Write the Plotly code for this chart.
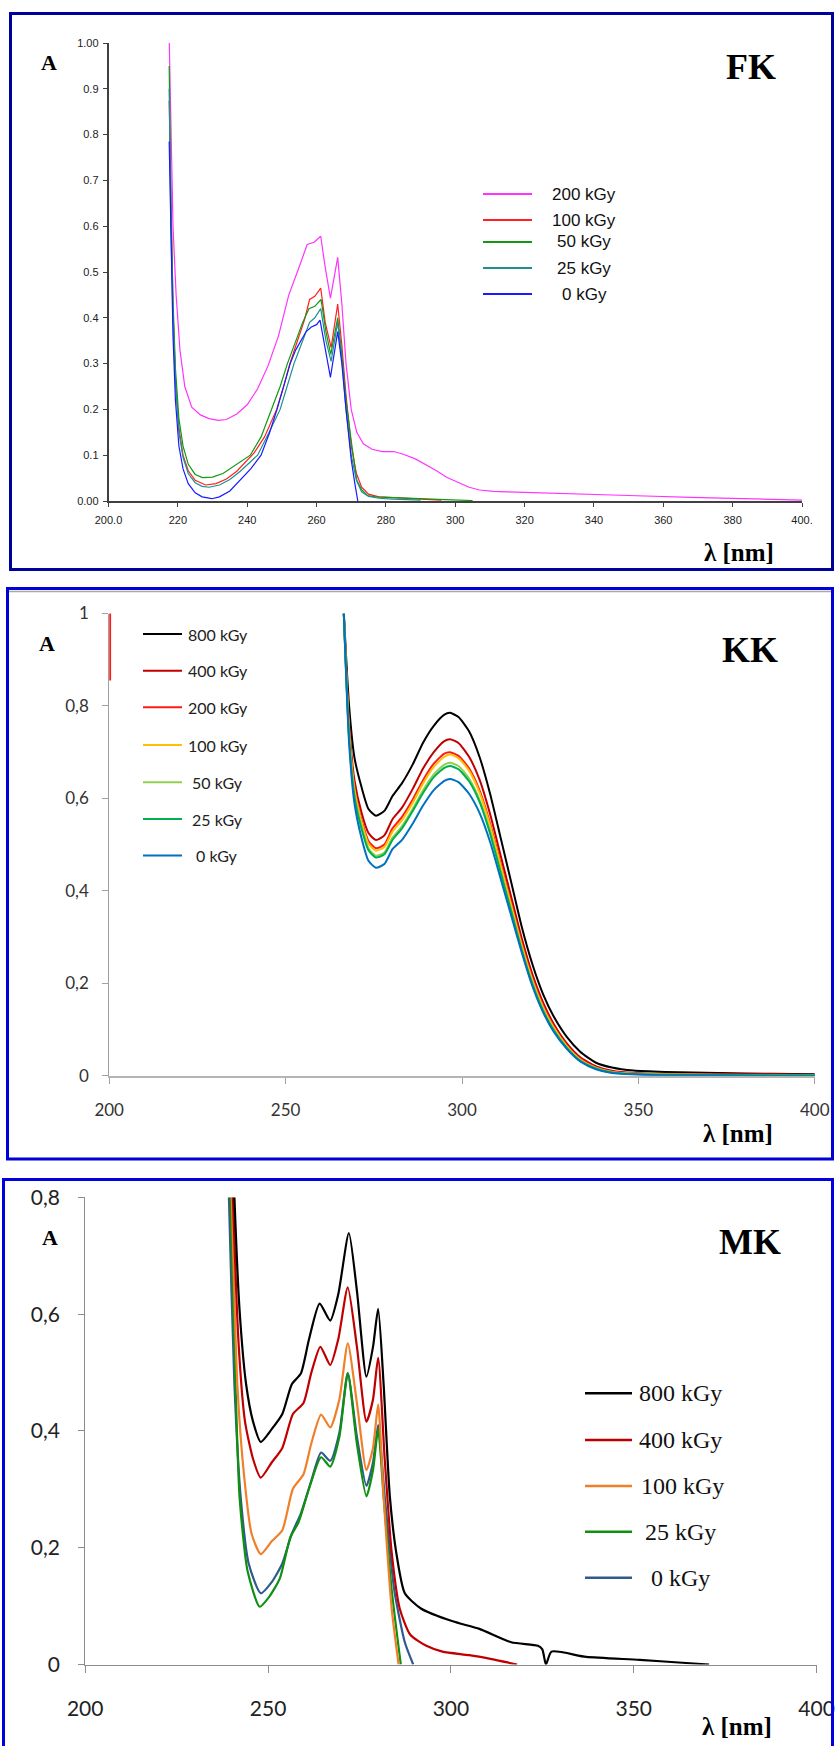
import plotly.graph_objects as go

W, H = 835, 1746


def px(x):
    return x / W


def py(y):
    return 1 - y / H


# ---------------- FK panel data ----------------
fk_labels = ["200 kGy", "100 kGy", "50 kGy", "25 kGy", "0 kGy"]
fk_colors = ["#ff33ff", "#ff2020", "#119911", "#1f8f8f", "#1a1aff"]

fk_200_nm = [217.4, 218.0, 218.6, 219.5, 220.6, 222, 224, 226.5, 229, 231.7, 234, 237, 240,
             243, 246, 249, 252, 254.7, 257.3, 259.3, 261.2, 262.5, 264, 266.1, 267.3, 268.5,
             270, 271.6, 273.5, 276, 279, 282.3, 285, 288.5, 291.5, 294.6, 297.5, 300.8, 304,
             307, 311, 315, 325, 337.6, 350, 368, 385, 400]
fk_200_abs = [1.05, 0.8, 0.6, 0.45, 0.33, 0.25, 0.205, 0.188, 0.18, 0.176, 0.178, 0.19, 0.21,
              0.245, 0.295, 0.36, 0.45, 0.505, 0.56, 0.565, 0.578, 0.51, 0.443, 0.532, 0.43, 0.30,
              0.2, 0.15, 0.125, 0.113, 0.108, 0.108, 0.102, 0.092, 0.08, 0.066, 0.052, 0.04, 0.03,
              0.024, 0.021, 0.02, 0.018, 0.016, 0.012, 0.008, 0.005, 0.002]

fk_100_nm = [217.5, 218.0, 218.6, 219.3, 220.3, 221.5, 223, 225, 228, 231, 234, 237, 240, 242,
             245, 248.5, 250.5, 252.3, 254.5, 256.5, 258, 259.5, 261.2, 262.5, 264.2, 266.1,
             267.3, 268.5, 270, 271.5, 273, 275, 278, 282, 286, 290, 296]
fk_100_abs = [0.874, 0.62, 0.42, 0.27, 0.16, 0.1, 0.066, 0.045, 0.035, 0.038, 0.048, 0.065,
              0.088, 0.105, 0.14, 0.2, 0.25, 0.3, 0.35, 0.395, 0.44, 0.447, 0.465, 0.39, 0.335,
              0.43, 0.34, 0.23, 0.12, 0.06, 0.03, 0.015, 0.009, 0.007, 0.006, 0.004, 0.002]

fk_50_nm = [217.5, 218.0, 218.6, 219.3, 220.3, 221.5, 223, 225, 227.1, 230, 233, 236, 238.5,
            240.9, 244, 247, 249.5, 251.6, 254, 256, 257.8, 259.5, 261.3, 262.7, 264.1, 266.1,
            267.3, 268.5, 270.1, 271.6, 273, 274.7, 277, 280, 285, 290, 297, 305]
fk_50_abs = [0.95, 0.65, 0.44, 0.29, 0.18, 0.12, 0.08, 0.058, 0.051, 0.052, 0.06, 0.075, 0.088,
             0.1, 0.14, 0.2, 0.25, 0.3, 0.35, 0.39, 0.42, 0.425, 0.44, 0.37, 0.32, 0.40, 0.32,
             0.22, 0.126, 0.045, 0.025, 0.012, 0.009, 0.008, 0.006, 0.005, 0.003, 0.001]

fk_25_nm = [217.5, 218.0, 218.6, 219.3, 220.3, 221.5, 223, 225, 227, 229, 232, 235, 238, 241,
            243, 246, 249.5, 251.5, 253.5, 256, 258, 259.5, 261.2, 262.7, 264.2, 266.1, 267.3,
            268.5, 270, 271.5, 273, 275, 278, 282, 290]
fk_25_abs = [0.9, 0.6, 0.4, 0.26, 0.15, 0.095, 0.06, 0.04, 0.032, 0.03, 0.035, 0.047, 0.065,
             0.085, 0.1, 0.145, 0.2, 0.25, 0.3, 0.35, 0.39, 0.4, 0.42, 0.35, 0.305, 0.39, 0.31,
             0.2, 0.1, 0.045, 0.02, 0.01, 0.006, 0.004, 0.002]

fk_0_nm = [217.5, 218.0, 218.6, 219.3, 220.3, 221.5, 223, 225, 227, 229.8, 232, 235, 238, 241,
           244, 246.5, 248.6, 250.5, 252.4, 254, 255.5, 257, 258.5, 260, 261, 262.5, 264, 266.1,
           267.3, 268.5, 270, 271, 271.9]
fk_0_abs = [0.785, 0.55, 0.36, 0.22, 0.12, 0.07, 0.038, 0.018, 0.009, 0.005, 0.009, 0.022,
            0.045, 0.07, 0.1, 0.15, 0.2, 0.25, 0.3, 0.33, 0.35, 0.37, 0.38, 0.385, 0.395, 0.33,
            0.27, 0.37, 0.3, 0.2, 0.09, 0.04, 0.0]

fk_x_ticks = [200, 220, 240, 260, 280, 300, 320, 340, 360, 380, 400]
fk_x_text = ["200.0", "220", "240", "260", "280", "300", "320", "340", "360", "380", "400."]
fk_y_ticks = [0, 0.1, 0.2, 0.3, 0.4, 0.5, 0.6, 0.7, 0.8, 0.9, 1.0]
fk_y_text = ["0.00", "0.1", "0.2", "0.3", "0.4", "0.5", "0.6", "0.7", "0.8", "0.9", "1.00"]

# ---------------- KK panel data ----------------
kk_labels = ["800 kGy", "400 kGy", "200 kGy", "100 kGy", "50 kGy", "25 kGy", "0 kGy"]
kk_colors = ["#000000", "#c00000", "#ff1a1a", "#ffc000", "#92d050", "#00b050", "#0070c0"]

kk_nm = [266.5, 268, 269.5, 271.5, 273.5, 275.6, 278, 280.3, 283, 286, 289, 292, 295, 296.6,
         299, 302, 305, 308, 311, 314, 317, 320, 323, 326, 329.7, 333.5, 338, 342.5, 348.6,
         357.6, 372.7, 387.8, 400]
kk_800 = [1.0, 0.80, 0.689, 0.625, 0.577, 0.5625, 0.573, 0.605, 0.633, 0.673, 0.721, 0.757,
          0.781, 0.785, 0.776, 0.745, 0.689, 0.609, 0.513, 0.417, 0.32, 0.24, 0.176, 0.128,
          0.084, 0.052, 0.028, 0.0176, 0.011, 0.008, 0.0056, 0.004, 0.003]
kk_400 = [1.0, 0.76, 0.64, 0.57, 0.525, 0.51, 0.52, 0.555, 0.58, 0.62, 0.665, 0.70, 0.724,
          0.728, 0.72, 0.69, 0.64, 0.565, 0.475, 0.385, 0.295, 0.218, 0.158, 0.112, 0.07, 0.04,
          0.02, 0.011, 0.006, 0.004, 0.003, 0.003, 0.002]
kk_200 = [1.0, 0.75, 0.625, 0.555, 0.508, 0.492, 0.50, 0.535, 0.56, 0.597, 0.64, 0.675, 0.697,
          0.70, 0.692, 0.665, 0.617, 0.545, 0.458, 0.372, 0.285, 0.21, 0.152, 0.107, 0.066,
          0.037, 0.018, 0.009, 0.005, 0.003, 0.002, 0.002, 0.001]
kk_100 = [1.0, 0.745, 0.62, 0.55, 0.502, 0.487, 0.495, 0.528, 0.553, 0.59, 0.633, 0.668, 0.69,
          0.695, 0.687, 0.66, 0.612, 0.54, 0.453, 0.367, 0.28, 0.206, 0.148, 0.104, 0.064,
          0.035, 0.017, 0.008, 0.004, 0.003, 0.002, 0.001, 0.001]
kk_50 = [1.0, 0.735, 0.61, 0.54, 0.492, 0.476, 0.483, 0.515, 0.54, 0.577, 0.618, 0.652, 0.673,
         0.677, 0.67, 0.643, 0.597, 0.527, 0.442, 0.357, 0.272, 0.2, 0.143, 0.1, 0.061, 0.033,
         0.016, 0.007, 0.004, 0.002, 0.001, 0.001, 0.001]
kk_25 = [1.0, 0.73, 0.605, 0.535, 0.488, 0.472, 0.479, 0.51, 0.535, 0.572, 0.612, 0.646, 0.666,
         0.670, 0.663, 0.637, 0.592, 0.523, 0.438, 0.354, 0.27, 0.197, 0.14, 0.098, 0.06, 0.032,
         0.015, 0.007, 0.003, 0.002, 0.001, 0.001, 0.001]
kk_0 = [1.0, 0.72, 0.59, 0.515, 0.465, 0.45, 0.458, 0.49, 0.51, 0.545, 0.585, 0.618, 0.638,
        0.642, 0.635, 0.61, 0.568, 0.505, 0.425, 0.345, 0.265, 0.193, 0.137, 0.095, 0.058,
        0.031, 0.014, 0.006, 0.003, 0.001, 0.001, 0.0, 0.0]
# short reading at the very start of the 200 kGy scan
kk_200_start_nm = [200.25, 200.25]
kk_200_start_abs = [1.2, 0.855]

kk_series = [kk_800, kk_400, kk_200, kk_100, kk_50, kk_25, kk_0]
kk_x_ticks = [200, 250, 300, 350, 400]
kk_y_ticks = [0, 0.2, 0.4, 0.6, 0.8, 1.0]
kk_y_text = ["0", "0,2", "0,4", "0,6", "0,8", "1"]

# ---------------- MK panel data ----------------
mk_labels = ["800 kGy", "400 kGy", "100 kGy", "25 kGy", "0 kGy"]
mk_colors = ["#000000", "#c00000", "#f07f2a", "#109010", "#2f5a8e"]

mk_800_nm = [240.3, 240.8, 242.2, 244.0, 245.9, 248.0, 251.0, 253.9, 256.5, 259.0, 261.2, 264.1,
             267.0, 269.2, 272.1, 274.3, 276.9, 278.7, 280.1, 281.6, 283.3, 285.2, 287.4, 291.8,
             300.5, 307.8, 316.5, 323.8, 325.0, 326.0, 327.5, 337.0, 351.6, 363.3, 370.6]
mk_800_abs = [0.9, 0.8, 0.608, 0.48, 0.416, 0.381, 0.403, 0.429, 0.48, 0.499, 0.557, 0.618,
              0.589, 0.634, 0.739, 0.64, 0.493, 0.544, 0.609, 0.48, 0.288, 0.186, 0.122, 0.096,
              0.074, 0.061, 0.038, 0.032, 0.026, 0.0, 0.022, 0.013, 0.008, 0.003, 0.0]

mk_400_nm = [240.0, 240.4, 242.0, 243.7, 245.9, 248.0, 251.0, 253.9, 256.8, 259.7, 261.8, 264.3,
             267.0, 269.2, 271.8, 274.3, 276.9, 278.7, 280.1, 281.9, 283.8, 286.0, 288.9, 293.3,
             297.7, 305.0, 310.8, 318.1]
mk_400_abs = [0.9, 0.8, 0.544, 0.416, 0.352, 0.32, 0.346, 0.371, 0.429, 0.448, 0.499, 0.544,
              0.513, 0.557, 0.646, 0.544, 0.416, 0.454, 0.525, 0.352, 0.192, 0.096, 0.051, 0.032,
              0.022, 0.016, 0.0096, 0.0]

mk_100_nm = [239.8, 240.1, 241.6, 243.5, 245.5, 248.0, 251.0, 253.9, 256.8, 259.7, 261.8, 264.5,
             267.0, 269.5, 271.8, 274.3, 276.9, 278.7, 280.1, 281.6, 283.8, 285.7]
mk_100_abs = [0.9, 0.8, 0.48, 0.32, 0.224, 0.189, 0.211, 0.23, 0.301, 0.326, 0.378, 0.428,
              0.406, 0.454, 0.55, 0.448, 0.333, 0.371, 0.445, 0.288, 0.096, 0.0]

mk_25_nm = [239.4, 239.7, 240.8, 242.2, 244.4, 247.7, 250.2, 253.2, 256.1, 258.3, 261.2, 264.5,
            267.0, 269.5, 271.8, 274.3, 276.9, 278.7, 280.1, 281.6, 283.8, 286.3]
mk_25_abs = [0.9, 0.8, 0.544, 0.288, 0.16, 0.099, 0.115, 0.147, 0.218, 0.243, 0.301, 0.355,
             0.339, 0.39, 0.499, 0.378, 0.288, 0.333, 0.403, 0.288, 0.128, 0.0]

mk_0_nm = [239.0, 239.3, 240.8, 242.5, 244.7, 248.0, 251.0, 253.9, 256.5, 259.0, 261.8, 264.5,
           267.0, 269.5, 271.8, 274.3, 276.9, 278.7, 280.1, 281.9, 284.5, 287.4, 289.7]
mk_0_abs = [0.9, 0.8, 0.48, 0.288, 0.173, 0.122, 0.141, 0.173, 0.224, 0.259, 0.314, 0.363,
            0.349, 0.397, 0.499, 0.39, 0.306, 0.346, 0.41, 0.288, 0.128, 0.038, 0.0]

mk_x_ticks = [200, 250, 300, 350, 400]
mk_y_ticks = [0, 0.2, 0.4, 0.6, 0.8]
mk_y_text = ["0", "0,2", "0,4", "0,6", "0,8"]

# ---------------- figure ----------------
fig = go.Figure()

fk_x = [fk_200_nm, fk_100_nm, fk_50_nm, fk_25_nm, fk_0_nm]
fk_y = [fk_200_abs, fk_100_abs, fk_50_abs, fk_25_abs, fk_0_abs]
for name, col, xs, ys in zip(fk_labels, fk_colors, fk_x, fk_y):
    fig.add_trace(go.Scatter(x=xs, y=ys, mode="lines", name=name, showlegend=False,
                             line=dict(color=col, width=1.2), xaxis="x", yaxis="y"))

for name, col, ys in zip(kk_labels, kk_colors, kk_series):
    xs, vals = list(kk_nm), list(ys)
    if name == "200 kGy":
        xs = kk_200_start_nm + [None] + xs
        vals = kk_200_start_abs + [None] + vals
    fig.add_trace(go.Scatter(x=xs, y=vals, mode="lines", name=name, showlegend=False,
                             line=dict(color=col, width=2, shape="spline", smoothing=0.6),
                             connectgaps=False, xaxis="x2", yaxis="y2"))

mk_x = [mk_800_nm, mk_400_nm, mk_100_nm, mk_25_nm, mk_0_nm]
mk_y = [mk_800_abs, mk_400_abs, mk_100_abs, mk_25_abs, mk_0_abs]
# draw the lowest doses first so the higher doses sit on top
for name, col, xs, ys in list(zip(mk_labels, mk_colors, mk_x, mk_y))[::-1]:
    fig.add_trace(go.Scatter(x=xs, y=ys, mode="lines", name=name, showlegend=False,
                             line=dict(color=col, width=2.2, shape="spline", smoothing=0.6),
                             xaxis="x3", yaxis="y3"))

fk_font = dict(family="Liberation Sans, Arial", size=11, color="#222222")
kk_font = dict(family="Lato, Open Sans", size=17, color="#333333")
mk_font = dict(family="Lato, Open Sans", size=21, color="#222222")

common = dict(showgrid=False, zeroline=False, showline=True, ticks="outside", mirror=False,
              automargin=False)

fig.update_layout(
    width=W, height=H, margin=dict(l=0, r=0, t=0, b=0, pad=0, autoexpand=False),
    autosize=False,
    paper_bgcolor="white", plot_bgcolor="rgba(0,0,0,0)",
    showlegend=False,
    xaxis=dict(domain=[px(108.5), px(802)], range=[200, 400], anchor="y",
               tickvals=fk_x_ticks, ticktext=fk_x_text, tickfont=fk_font,
               linecolor="#404040", linewidth=1.5, tickcolor="#404040", ticklen=4,
               ticklabelstandoff=4, **common),
    yaxis=dict(domain=[py(501), py(43)], range=[0, 1], anchor="x",
               tickvals=fk_y_ticks, ticktext=fk_y_text, tickfont=fk_font,
               linecolor="#404040", linewidth=1.5, tickcolor="#404040", ticklen=4,
               ticklabelstandoff=2, **common),
    xaxis2=dict(domain=[px(109.2), px(814.8)], range=[200, 400], anchor="y2",
                tickvals=kk_x_ticks, tickfont=kk_font,
                linecolor="#b4b4b4", linewidth=2, tickcolor="#a0a0a0", ticklen=6,
                ticklabelstandoff=12, **common),
    yaxis2=dict(domain=[py(1075.7), py(613.5)], range=[0, 1], anchor="x2",
                tickvals=kk_y_ticks, ticktext=kk_y_text, tickfont=kk_font,
                linecolor="#a0a0a0", linewidth=1, tickcolor="#a0a0a0", ticklen=6,
                ticklabelstandoff=10, **common),
    xaxis3=dict(domain=[px(85.2), px(816.6)], range=[200, 400], anchor="y3",
                tickvals=mk_x_ticks, tickfont=mk_font,
                linecolor="#8c8c8c", linewidth=1, tickcolor="#8c8c8c", ticklen=7,
                ticklabelstandoff=18, **common),
    yaxis3=dict(domain=[py(1664.5), py(1197.4)], range=[0, 0.8], anchor="x3",
                tickvals=mk_y_ticks, ticktext=mk_y_text, tickfont=mk_font,
                linecolor="#8c8c8c", linewidth=1, tickcolor="#8c8c8c", ticklen=6,
                ticklabelstandoff=14, **common),
)

shapes = []
annotations = []


def rect(x0, y0, x1, y1, color, width):
    shapes.append(dict(type="rect", xref="paper", yref="paper",
                       x0=px(x0), x1=px(x1), y0=py(y0), y1=py(y1),
                       line=dict(color=color, width=width), fillcolor="rgba(0,0,0,0)",
                       layer="above"))


def hline(x0, x1, y, color, width):
    shapes.append(dict(type="line", xref="paper", yref="paper",
                       x0=px(x0), x1=px(x1), y0=py(y), y1=py(y),
                       line=dict(color=color, width=width), layer="above"))


def text(x, y, s, font, xanchor="center"):
    annotations.append(dict(xref="paper", yref="paper", x=px(x), y=py(y), text=s,
                            showarrow=False, font=font, xanchor=xanchor, yanchor="middle"))


# panel frames
rect(10.5, 13.5, 832.5, 569.5, "#00009c", 3)
rect(7.5, 588.5, 832.5, 1159, "#0000d8", 3)
hline(9, 831, 591.5, "#a8a8a8", 1.5)
rect(3.5, 1179.5, 832.5, 1770, "#0000e0", 3)

title_font = dict(family="Liberation Serif, Times New Roman", size=36, color="black")
a_font = dict(family="Liberation Serif, Times New Roman", size=22, color="black")
lam_font = dict(family="Liberation Serif, Times New Roman", size=25, color="black")

for (ax, ay), (tx, ty, tname), (lx, ly) in zip(
        [(49, 63), (47, 643.5), (49.5, 1237.5)],
        [(751, 67, "FK"), (749.5, 649.5, "KK"), (749.5, 1242, "MK")],
        [(739, 552), (737.5, 1133.5), (736.7, 1726)]):
    text(ax, ay, "<b>A</b>", a_font)
    text(tx, ty, "<b>" + tname + "</b>", title_font)
    text(lx, ly, "<b>λ [nm]</b>", lam_font)

# FK key
fk_key_y = [194, 220, 242, 268, 294]
for name, col, y in zip(fk_labels, fk_colors, fk_key_y):
    hline(483, 532, y, col, 2)
    text(584, y, name, dict(family="Liberation Sans, Arial", size=17, color="#111111"))

# KK key
kk_key_y = [634, 670.7, 707.3, 745, 782.3, 819, 855.6]
kk_key_x = [186, 186, 186, 186, 190, 190, 194]
for name, col, y, x in zip(kk_labels, kk_colors, kk_key_y, kk_key_x):
    hline(143, 182, y, col, 2)
    text(x, y, name, dict(family="Lato, Open Sans", size=16, color="#222222"), xanchor="left")

# MK key
mk_key_y = [1393.3, 1440, 1486, 1531.7, 1577.7]
mk_key_x = [636.5, 636.5, 639, 643.3, 649.3]
for name, col, y, x in zip(mk_labels, mk_colors, mk_key_y, mk_key_x):
    hline(585, 632, y, col, 2.5)
    text(x, y, name, dict(family="Liberation Serif, Times New Roman", size=24, color="#111111"),
         xanchor="left")

fig.update_layout(shapes=shapes, annotations=annotations)

fig.write_html("out.html")
